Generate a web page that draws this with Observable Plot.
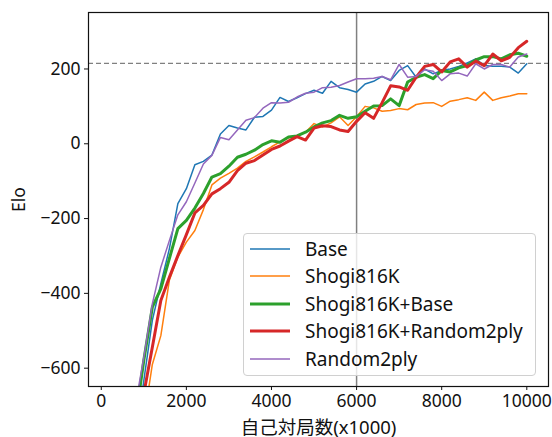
<!DOCTYPE html>
<html>
<head>
<meta charset="utf-8">
<script src="https://cdn.jsdelivr.net/npm/d3@7"></script>
<script src="https://cdn.jsdelivr.net/npm/@observablehq/plot@0.6"></script>
<style>
  html, body { margin: 0; padding: 0; background: white; }
  #wrap { position: relative; width: 552px; height: 437px; font-family: 'Noto Sans', 'Noto Sans CJK JP', sans-serif; }
  #legend { position: absolute; left: 243px; top: 233px; width: 293px; height: 143px;
    background: rgba(255,255,255,0.8); border: 1px solid #d0d0d0; border-radius: 4px; box-sizing: border-box; }
  .row { position: absolute; left: 0; height: 27px; display: flex; align-items: center; font-size: 19px; color: #111; white-space: nowrap; }
  .row svg { margin-left: 6px; margin-right: 15px; }
</style>
</head>
<body>
<div id="wrap"><div id="chart"></div><div id="legend"></div></div>
<script>
// Self-play games (x1000)
const games = [200,400,600,800,1000,1200,1400,1600,1800,2000,2200,2400,2600,2800,3000,3200,3400,3600,3800,4000,
  4200,4400,4600,4800,5000,5200,5400,5600,5800,6000,6200,6400,6600,6800,7000,7200,7400,7600,7800,8000,
  8200,8400,8600,8800,9000,9200,9400,9600,9800,10000];

const base = [-1400,-1200,-1000,-800,-633,-472,-374,-281,-160,-120,-56,-47,-30,26,49,42,37,71,73,90,
  124,113,123,134,143,135,167,150,145,138,160,167,180,169,196,209,178,200,187,196,
  200,207,216,227,209,207,207,205,189,214];
const shogi816k = [-1500,-1300,-1100,-900,-740,-590,-513,-365,-303,-263,-232,-176,-110,-92,-79,-65,-47,-35,-22,-8,
  5,16,21,31,54,45,56,72,49,72,100,96,87,89,94,91,105,109,110,100,
  114,118,123,116,138,116,123,128,134,134];
const shogi816kBase = [-1300,-1100,-900,-740,-579,-437,-388,-307,-227,-205,-172,-133,-89,-80,-60,-36,-28,-17,-2,8,
  4,18,21,31,45,56,62,76,68,72,87,101,102,120,102,165,178,185,174,196,
  192,203,209,224,233,233,227,238,242,234];
const shogi816kRandom2ply = [-1400,-1200,-1000,-800,-668,-544,-419,-357,-299,-243,-185,-165,-134,-120,-103,-72,-52,-45,-30,-15,
  -6,7,19,10,42,48,46,37,33,60,83,68,110,155,152,143,178,207,212,192,
  219,227,205,221,209,240,222,231,257,274];
const random2ply = [-1300,-1100,-900,-700,-571,-428,-330,-259,-190,-155,-105,-54,-31,17,11,37,63,70,95,110,
  109,111,125,135,138,150,151,156,165,174,174,175,180,171,212,178,180,198,194,169,
  187,189,181,214,200,212,212,205,232,240];

const seriesNames = ["Base","Shogi816K","Shogi816K+Base","Shogi816K+Random2ply","Random2ply"];
const seriesValues = [base, shogi816k, shogi816kBase, shogi816kRandom2ply, random2ply];
const seriesColors = ["#1f77b4","#ff7f0e","#2ca02c","#d62728","#9467bd"];
const seriesWidths = [1.5, 1.5, 3, 3, 1.5];

const xTicks = [0,2000,4000,6000,8000,10000];
const yTicks = [-600,-400,-200,0,200];
const refElo = 215;
const refGames = 6000;

const lineMarks = seriesNames.map((name, i) => {
  const rows = games.map((g, j) => ({games: g, elo: seriesValues[i][j]}));
  return Plot.line(rows, {x: "games", y: "elo", stroke: seriesColors[i], strokeWidth: seriesWidths[i],
    strokeLinejoin: "round", clip: true});
});

const chart = Plot.plot({
  width: 552, height: 437,
  marginLeft: 88, marginRight: 4, marginTop: 12, marginBottom: 51,
  style: {fontFamily: "'Noto Sans', 'Noto Sans CJK JP', sans-serif", fontSize: "17px", color: "#111", background: "white"},
  x: {domain: [-300, 10510]},
  y: {domain: [-649, 351]},
  marks: [
    Plot.ruleY([refElo], {stroke: "#808080", strokeWidth: 1.2, strokeDasharray: "5,3"}),
    Plot.ruleX([refGames], {stroke: "#808080", strokeWidth: 1.5}),
    ...lineMarks,
    Plot.frame({stroke: "#111", strokeWidth: 1.2}),
    Plot.axisX({ticks: xTicks, tickSize: 4, tickPadding: 4, tickFormat: d => String(d), fontSize: 17.5, label: null}),
    Plot.axisX({ticks: [], tickSize: 0, label: "自己対局数(x1000)", labelAnchor: "center", labelArrow: "none",
      labelOffset: 47, fontSize: 18.5}),
    Plot.axisY({ticks: yTicks, tickSize: 4, tickPadding: 4, tickFormat: d => d < 0 ? "\u2212" + Math.abs(d) : String(d),
      label: "Elo", labelAnchor: "center", labelArrow: "none", labelOffset: 76, fontSize: 17.5})
  ]
});
document.getElementById("chart").appendChild(chart);

const legend = document.getElementById("legend");
seriesNames.forEach((name, i) => {
  const row = document.createElement("div");
  row.className = "row";
  row.style.top = (1 + i * 27.5) + "px";
  row.innerHTML = `<svg width="40" height="6"><line x1="0" x2="40" y1="3" y2="3" stroke="${seriesColors[i]}" stroke-width="${seriesWidths[i]}"/></svg><span>${name}</span>`;
  legend.appendChild(row);
});
</script>
</body>
</html>
